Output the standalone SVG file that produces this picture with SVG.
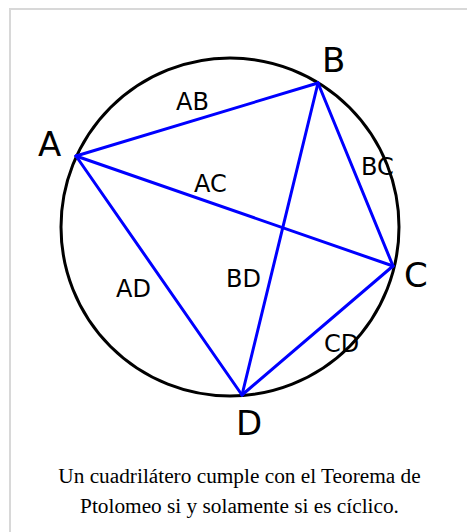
<svg xmlns="http://www.w3.org/2000/svg" width="467" height="532" viewBox="0 0 467 532">
<style>
.frame{fill:none;stroke:#d8d8d8;stroke-width:2}
.circ{fill:none;stroke:#000;stroke-width:3}
.edge{stroke:#0000ff;stroke-width:3;stroke-linecap:round}
.big{font-family:"DejaVu Sans",sans-serif;font-size:34px;fill:#000}
.small{font-family:"DejaVu Sans",sans-serif;font-size:24px;fill:#000}
.cap{font-family:"Liberation Serif",serif;font-size:21.3px;fill:#000;text-anchor:middle}
</style>
<rect width="467" height="532" fill="#fff"/>
<path class="frame" d="M10,532 V9 H467"/>
<g id="circle"><circle class="circ" cx="230" cy="227" r="169"/></g>
<g id="connectors">
<line class="edge" x1="76" y1="156" x2="318" y2="83"/>
<line class="edge" x1="76" y1="156" x2="393" y2="266"/>
<line class="edge" x1="76" y1="156" x2="242" y2="395"/>
<line class="edge" x1="318" y1="83" x2="393" y2="266"/>
<line class="edge" x1="318" y1="83" x2="242" y2="395"/>
<line class="edge" x1="393" y1="266" x2="242" y2="395"/>
</g>
<g id="node-A"><text class="big" x="38" y="156">A</text></g>
<g id="node-B"><text class="big" x="322" y="72">B</text></g>
<g id="node-C"><text class="big" x="404" y="287">C</text></g>
<g id="node-D"><text class="big" x="236" y="435">D</text></g>
<g id="labels">
<text class="small" x="176" y="110">AB</text>
<text class="small" x="194" y="192">AC</text>
<text class="small" x="361" y="175">BC</text>
<text class="small" x="226" y="287">BD</text>
<text class="small" x="116" y="297">AD</text>
<text class="small" x="324" y="352">CD</text>
</g>
<g id="caption">
<text class="cap" x="239.5" y="483">Un cuadrilátero cumple con el Teorema de</text>
<text class="cap" x="239.5" y="513">Ptolomeo si y solamente si es cíclico.</text>
</g>
</svg>
